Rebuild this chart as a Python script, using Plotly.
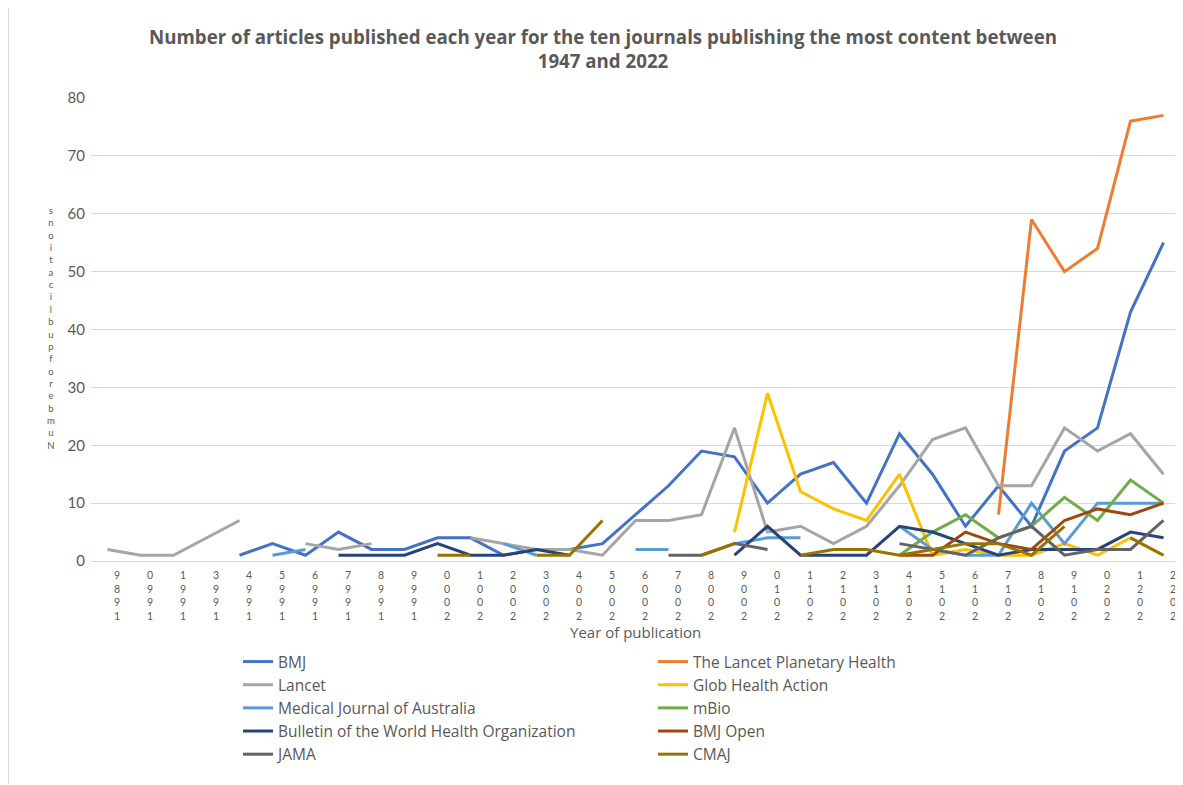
import plotly.graph_objects as go

years = ["1989", "1990", "1991", "1993", "1994", "1995", "1996", "1997", "1998", "1999",
         "2000", "2001", "2002", "2003", "2004", "2005", "2006", "2007", "2008", "2009",
         "2010", "2011", "2012", "2013", "2014", "2015", "2016", "2017", "2018", "2019",
         "2020", "2021", "2022"]
N = None

bmj = [N, N, N, N, 1, 3, 1, 5, 2, 2, 4, 4, 1, 2, 2, 3, 8, 13, 19, 18, 10, 15, 17, 10, 22, 15, 6, 13, 6, 19, 23, 43, 55]
lancet_planetary = [N]*27 + [8, 59, 50, 54, 76, 77]
lancet = [2, 1, 1, 4, 7, N, 3, 2, 3, N, N, 4, 3, 2, 2, 1, 7, 7, 8, 23, 5, 6, 3, 6, 13, 21, 23, 13, 13, 23, 19, 22, 15]
glob_health_action = [N]*19 + [5, 29, 12, 9, 7, 15, 1, 2, 1, 1, 3, 1, 4, 1]
med_j_australia = [N, N, N, N, N, 1, 2, N, N, N, N, N, 3, 1, N, N, 2, 2, N, 3, 4, 4, N, N, 6, 2, 1, 1, 10, 3, 10, 10, 10]
mbio = [N]*24 + [1, 5, 8, 4, 6, 11, 7, 14, 10]
bulletin_who = [N, N, N, N, N, N, N, 1, 1, 1, 3, 1, 1, 2, 1, N, N, N, N, 1, 6, 1, 1, 1, 6, 5, 3, 1, 2, 2, 2, 5, 4]
bmj_open = [N]*24 + [1, 1, 5, 3, 2, 7, 9, 8, 10]
jama = [N]*17 + [1, 1, 3, 2, N, N, N, 3, 2, 1, 4, 6, 1, 2, 2, 7]
cmaj = [N]*10 + [1, 1, N, 1, 1, 7, N, N, 1, 3, N, 1, 2, 2, 1, 2, 3, 3, 1, 6, N, 4, 1]

series = [
    ("BMJ", bmj, "#4472C4"),
    ("The Lancet Planetary Health", lancet_planetary, "#ED7D31"),
    ("Lancet", lancet, "#A5A5A5"),
    ("Glob Health Action", glob_health_action, "#FFC000"),
    ("Medical Journal of Australia", med_j_australia, "#5B9BD5"),
    ("mBio", mbio, "#70AD47"),
    ("Bulletin of the World Health Organization", bulletin_who, "#264478"),
    ("BMJ Open", bmj_open, "#9E480E"),
    ("JAMA", jama, "#636363"),
    ("CMAJ", cmaj, "#997300"),
]

title_text = ("Number of articles published each year for the ten journals publishing the most content between"
              "<br>1947 and 2022")
x_title = "Year of publication"
y_title = "Number of publications"

FONT = "Lato"
FONT2 = "Open Sans"
GREY = "#595959"

fig = go.Figure()
for name, vals, col in series:
    fig.add_trace(go.Scatter(x=years, y=vals, name=name, mode="lines",
                             line=dict(color=col, width=3), connectgaps=False))

# the page body adds an 8px offset; figure is sized so the picture lines up with the window
OFF = 8
W, H = 1183 - OFF, 785 - OFF
PL, PR, PT, PB = 91, 1180, 98, 561          # plot area in window pixels
ML, MR, MT, MB = PL - OFF, W - (PR - OFF), PT - OFF, H - (PB - OFF)
pw, ph = PR - PL, PB - PT


def py(y_px):
    return (PB - y_px) / ph


def px(x_px):
    return (x_px - PL) / pw


def stacked(s):
    # characters stacked vertically, last character on top, as drawn in the original
    return "<br>".join(ch for ch in s[::-1] if ch != " ")


annotations = []
for i, yr in enumerate(years):
    annotations.append(dict(x=i, xref="x", y=py(567), yref="paper",
                            text=stacked(yr), showarrow=False, xanchor="center", yanchor="top",
                            xshift=9, align="center",
                            font=dict(family=FONT, size=10.5, color=GREY)))
annotations.append(dict(x=px(51), xref="paper", y=py(328), yref="paper",
                        text=stacked(y_title), showarrow=False, xanchor="center", yanchor="middle",
                        align="center", font=dict(family=FONT, size=9.5, color=GREY)))
annotations.append(dict(x=0.5, xref="paper", y=py(632), yref="paper", text=x_title,
                        showarrow=False, xanchor="center", yanchor="middle",
                        font=dict(family=FONT2, size=15, color=GREY)))

fig.update_layout(
    width=W, height=H,
    margin=dict(l=ML, r=MR, t=MT, b=MB, autoexpand=False),
    paper_bgcolor="white", plot_bgcolor="white",
    title=dict(text=title_text, x=(603 - OFF) / W, xanchor="center", y=1 - 36 / H, yanchor="middle",
               font=dict(family=FONT2, size=18.7, color=GREY, weight="bold")),
    xaxis=dict(type="category", range=[-0.5, len(years) - 0.5], showticklabels=False,
               showgrid=False, zeroline=False, showline=False, ticks=""),
    yaxis=dict(range=[0, 80], dtick=10, showgrid=True, gridcolor="#D9D9D9", gridwidth=1,
               zeroline=True, zerolinecolor="#D9D9D9", zerolinewidth=1, showline=False,
               ticks="", tickfont=dict(family=FONT, size=15, color=GREY), ticklabelstandoff=5),
    legend=dict(orientation="h", x=px(238), xanchor="left",
                y=py(645), yanchor="top", entrywidth=370, entrywidthmode="pixels",
                font=dict(family=FONT2, size=15.5, color=GREY), traceorder="normal"),
    annotations=annotations,
    shapes=[dict(type="line", xref="paper", yref="paper", x0=px(8.5), x1=px(8.5),
                 y0=py(784), y1=py(8), line=dict(color="#D9D9D9", width=1))],
    showlegend=True,
)

fig.write_html("out.html")
